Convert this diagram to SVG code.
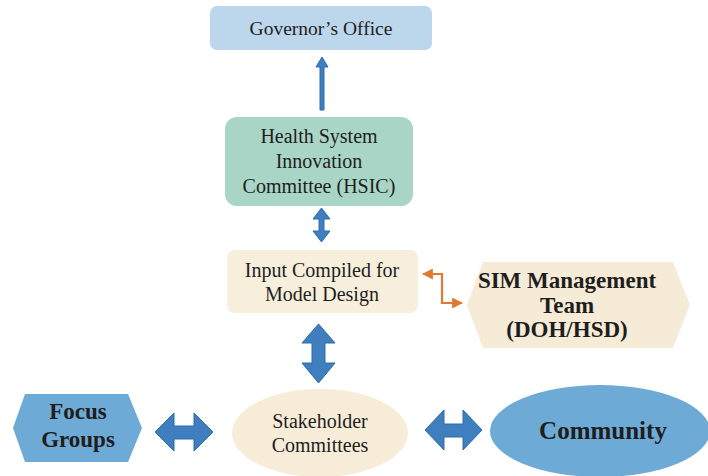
<svg xmlns="http://www.w3.org/2000/svg" width="708" height="476" viewBox="0 0 708 476" font-family="'Liberation Serif', 'DejaVu Serif', serif">
<style>
text{fill:#1e1e1e;text-anchor:middle}
.r{font-size:20px}
.b{font-size:23px;font-weight:bold}
.blue{fill:#6eaad6}
.arr{fill:#3f7fc0;stroke:#2f6aa8;stroke-width:1}
</style>
<defs>
<marker id="oh" viewBox="0 0 10 10" refX="9" refY="5" markerWidth="5" markerHeight="5" orient="auto-start-reverse">
<path d="M0,0 L10,5 L0,10 z" fill="#e07a30"/>
</marker>
</defs>
<rect width="708" height="476" fill="#ffffff"/>
<g id="governor">
<rect x="210" y="6" width="222" height="44" rx="7" fill="#bcd6ec"/>
<text class="r" x="321" y="35" style="font-size:19.5px">Governor’s Office</text>
</g>
<g id="hsic">
<rect x="225" y="117" width="188" height="89" rx="12" fill="#a9d5c6"/>
<text class="r" x="319" y="143">Health System</text>
<text class="r" x="319" y="168">Innovation</text>
<text class="r" x="319" y="193">Committee (HSIC)</text>
</g>
<g id="input">
<rect x="227" y="250" width="191" height="63" rx="8" fill="#f7eedc"/>
<text class="r" x="322" y="277">Input Compiled for</text>
<text class="r" x="322" y="301">Model Design</text>
</g>
<g id="sim">
<polygon points="467,305 483,262 673,262 690,305 673,348 483,348" fill="#f5ebd6"/>
<text class="b" x="567" y="288">SIM Management</text>
<text class="b" x="567" y="313">Team</text>
<text class="b" x="567" y="337">(DOH/HSD)</text>
</g>
<g id="stakeholder">
<ellipse cx="320" cy="433" rx="88" ry="44" fill="#f6ecd8"/>
<text class="r" x="320" y="428">Stakeholder</text>
<text class="r" x="320" y="452">Committees</text>
</g>
<g id="focus">
<polygon class="blue" points="13,428 25,394 128,394 142,428 128,462 25,462"/>
<text class="b" x="78" y="419">Focus</text>
<text class="b" x="78" y="447">Groups</text>
</g>
<g id="community">
<ellipse class="blue" cx="600" cy="431" rx="110" ry="46"/>
<text class="b" x="603" y="439" style="font-size:25px">Community</text>
</g>
<g id="connectors">
<path class="arr" d="M322,57 L328,67 L324,67 L324,110 L320,110 L320,67 L316,67 Z"/>
<path class="arr" d="M321.5,208 L330,219 L324,219 L324,231 L330,231 L321.5,242 L313,231 L319,231 L319,219 L313,219 Z"/>
<path class="arr" d="M318.5,324 L335,343 L325,343 L325,363 L335,363 L318.5,383 L302,363 L312,363 L312,343 L302,343 Z"/>
<path class="arr" d="M155,432 L174,413 L174,426 L194,426 L194,413 L213,432 L194,451 L194,439 L174,439 L174,451 Z"/>
<path class="arr" d="M425,430 L444,410 L444,424 L463,424 L463,410 L482,430 L463,450 L463,437 L444,437 L444,450 Z"/>
<polyline points="423,274 442,274 442,303 462,303" fill="none" stroke="#e07a30" stroke-width="2.2" marker-start="url(#oh)" marker-end="url(#oh)"/>
</g>
</svg>
